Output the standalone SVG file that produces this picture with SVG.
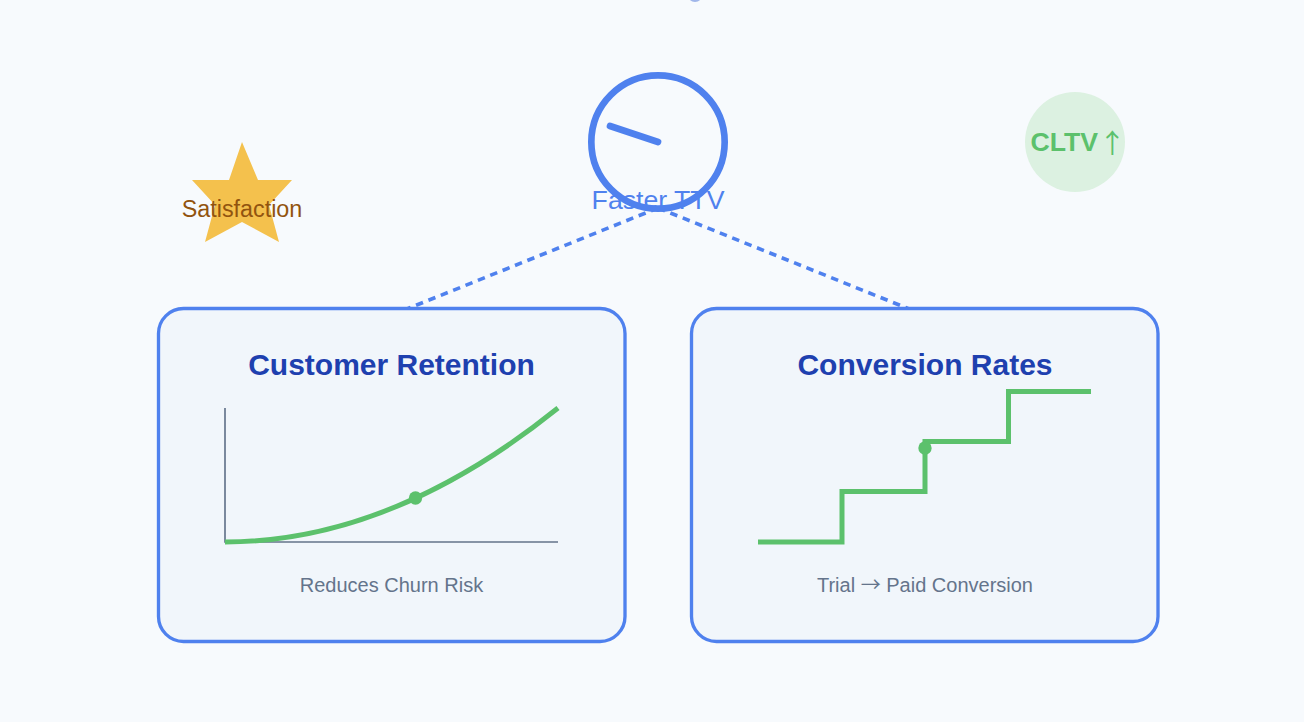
<svg xmlns="http://www.w3.org/2000/svg" width="1304" height="722" viewBox="0 0 1304 722">
<style>
text{font-family:"Liberation Sans",Arial,sans-serif;text-anchor:middle}
.arrow{font-family:"Noto Sans CJK SC",sans-serif;font-weight:400}
.card{fill:#f1f6fb;stroke:#4f81ee;stroke-width:3.33}
.title{font-size:30px;font-weight:700;fill:#1e40af}
.sub{font-size:20px;fill:#64748b}
.trend{fill:none;stroke:#5cc16c;stroke-width:5}
.dot{fill:#5cc16c}
.dash{fill:none;stroke:#4f81ee;stroke-width:3.6;stroke-dasharray:7.5 5.83}
</style>
<rect width="1304" height="722" fill="#f7fafd"/>
<g id="top-fragment"><circle cx="695" cy="-5.500" r="7.500" fill="#a0b6ea"/></g>
<g id="connectors">
<path class="dash" d="M658 208L408 308.500"/>
<path class="dash" d="M658 208L908 308.500"/>
</g>
<g id="clock">
<circle cx="658" cy="142" r="66.670" fill="none" stroke="#4f81ee" stroke-width="6.670"/>
<line x1="658" y1="142" x2="610" y2="126" stroke="#4f81ee" stroke-width="6.670" stroke-linecap="round"/>
<text x="658" y="208.500" font-size="26.670" fill="#4f81ee">Faster TTV</text>
</g>
<g id="satisfaction">
<polygon points="242,142 258,180 292,180 269,205 279,242 242,222 205,242 215,205 192,180 229,180" fill="#f4c14d"/>
<text x="242" y="216.500" font-size="23.330" fill="#92540f">Satisfaction</text>
</g>
<g id="cltv">
<circle cx="1075" cy="142" r="50" fill="#dcf1e1"/>
<text x="1030.500" y="150.500" font-size="26.670" font-weight="700" fill="#5cc16c" style="text-anchor:start;word-spacing:-6.500px">CLTV <tspan class="arrow" dy="2.500">↑</tspan></text>
</g>
<g id="retention">
<rect class="card" x="158.500" y="308.500" width="466.500" height="333" rx="25"/>
<text class="title" x="391.500" y="375">Customer Retention</text>
<path d="M225 408V542H558" fill="none" stroke="#64748b" stroke-width="1.670"/>
<path class="trend" d="M225 542Q391.500 542 558 408"/>
<circle class="dot" cx="415.500" cy="498" r="6.670"/>
<text class="sub" x="391.500" y="591.500">Reduces Churn Risk</text>
</g>
<g id="conversion">
<rect class="card" x="691.500" y="308.500" width="466.500" height="333" rx="25"/>
<text class="title" x="925" y="375">Conversion Rates</text>
<path class="trend" d="M758 542H842V491.500H925V441.500H1008.500V391.500H1091"/>
<circle class="dot" cx="925" cy="448" r="6.670"/>
<text class="sub" x="925" y="591.500">Trial <tspan class="arrow">→</tspan> Paid Conversion</text>
</g>
</svg>
